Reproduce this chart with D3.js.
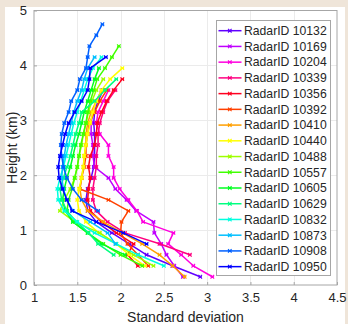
<!DOCTYPE html>
<html>
<head>
<meta charset="utf-8">
<script src="https://cdn.jsdelivr.net/npm/d3@7"></script>
<style>
  body { margin: 0; background: #efe5d9; }
  #chart { width: 348px; height: 324px; }
  text { font-family: "Liberation Sans", Arial, sans-serif; fill: #262626; }
</style>
</head>
<body>
<div id="chart"></div>
<script>
// heights (km) shared by every radar profile
const heights = [0.15,0.35,0.55,0.75,0.95,1.15,1.35,1.55,1.75,1.95,2.15,2.35,2.55,2.75,2.95,3.15,3.35,3.55,3.75,3.95,4.15,4.35,4.55,4.75];

const radarIds = ['10132','10169','10204','10339','10356','10392','10410','10440','10488','10557','10605','10629','10832','10873','10908','10950'];

// standard deviation per height, null = no data
const sd10132 = [2.92,2.60,2.30,2.10,1.90,1.72,1.62,1.60,1.62,1.66,1.69,1.70,1.70,1.70,1.69,1.70,1.74,1.80];
const sd10169 = [2.72,2.62,2.53,2.47,2.39,2.38,2.18,2.07,1.94,1.86,1.70,1.68,1.68,1.66,1.66,1.68,1.72,1.78];
const sd10204 = [3.06,2.84,2.70,2.55,2.61,2.26,2.19,2.09,1.99,1.92,1.92,1.86,1.86,1.76,1.72,1.74,1.80,1.86];
const sd10339 = [null,null,2.80,2.45,2.05,1.85,1.72,1.68,1.68,1.70,1.72,1.72,1.74,1.74,1.76,1.80,1.85,1.94];
const sd10356 = [null,2.20,2.08,2.15,1.95,1.78,1.65,1.62,1.63,1.65,1.63,1.65,1.70,1.72,1.73,1.78,1.84,1.92,2.02];
const sd10392 = [null,2.32,2.20,2.08,2.00,2.01,2.09,1.86,1.53,1.55,1.58,1.60,1.60,1.62,1.64,1.70,1.76,1.84];
const sd10410 = [2.74,2.60,2.45,2.25,2.02,1.80,1.62,1.55,1.53,1.55,1.57,1.58,1.60,1.60,1.62,1.66,1.72,1.80];
const sd10440 = [null,2.28,2.10,1.95,1.75,1.60,1.52,1.50,1.52,1.55,1.57,1.58,1.60,1.62,1.65,1.68,1.72,1.78,1.88,2.02];
const sd10488 = [null,2.38,2.15,1.95,1.76,1.47,1.30,1.35,1.42,1.47,1.50,1.52,1.55,1.57,1.60,1.63,1.67,1.72,1.80];
const sd10557 = [null,2.25,2.00,1.80,1.62,1.45,1.38,1.40,1.44,1.47,1.50,1.52,1.54,1.57,1.60,1.62,1.65,1.69,1.73,1.82,1.90,1.98];
const sd10605 = [null,null,2.05,1.78,1.62,1.45,1.36,1.33,1.35,1.38,1.42,1.45,1.48,1.52,1.55,1.58,1.62,1.66,1.70,1.75];
const sd10629 = [null,null,1.92,1.74,1.63,1.49,1.38,1.32,1.30,1.34,1.38,1.42,1.45,1.48,1.52,1.55,1.70,1.82,1.95];
const sd10832 = [null,2.50,2.20,1.95,1.70,1.50,1.35,1.28,1.27,1.30,1.34,1.37,1.40,1.43,1.46,1.50,1.54,1.58,1.62,1.68,1.78];
const sd10873 = [null,null,null,1.94,1.85,1.65,1.45,1.38,1.34,1.32,1.33,1.35,1.37,1.40,1.43,1.46,1.50,1.55,1.58,1.62,1.70];
const sd10908 = [null,null,null,null,null,null,1.74,1.55,1.45,1.38,1.34,1.32,1.31,1.32,1.35,1.40,1.43,1.50,1.53,1.60,1.62,1.64,1.72,1.79];
const sd10950 = [null,null,null,2.30,2.03,1.72,1.44,1.38,1.33,1.29,1.28,1.30,1.33,1.36,1.40,1.47,1.55,1.62,1.64,1.65,1.83];

const sdSeries = [sd10132,sd10169,sd10204,sd10339,sd10356,sd10392,sd10410,sd10440,sd10488,sd10557,sd10605,sd10629,sd10832,sd10873,sd10908,sd10950];

const xTicks = [1,1.5,2,2.5,3,3.5,4,4.5];
const yTicks = [0,1,2,3,4,5];

const W = 348, H = 324;
const svg = d3.select('#chart').append('svg').attr('width', W).attr('height', H);

// white panel on the beige page
svg.append('rect').attr('x', 5).attr('y', 7).attr('width', 340).attr('height', H - 7).attr('fill', '#fff');

const x = d3.scaleLinear().domain([1, 4.5]).range([34, 337]);
const y = d3.scaleLinear().domain([0, 5]).range([285, 10.5]);
const color = i => d3.hsl((262.5 + 22.5 * i) % 360, 1, 0.5).formatHex();

// grid
const grid = svg.append('g').attr('stroke', '#ebebeb').attr('stroke-width', 1);
grid.selectAll('.gx').data(xTicks.slice(1, -1)).join('line')
  .attr('x1', d => Math.round(x(d)) + 0.5).attr('x2', d => Math.round(x(d)) + 0.5)
  .attr('y1', y(5)).attr('y2', y(0));
grid.selectAll('.gy').data(yTicks.slice(1, -1)).join('line')
  .attr('y1', d => Math.round(y(d)) + 0.5).attr('y2', d => Math.round(y(d)) + 0.5)
  .attr('x1', x(1)).attr('x2', x(4.5));

// series
const line = d3.line().defined(d => d[0] != null).x(d => x(d[0])).y(d => y(d[1]));
const plot = svg.append('g');
sdSeries.forEach((vals, i) => {
  const pts = vals.map((v, k) => [v, heights[k]]);
  const c = color(i);
  plot.append('path').datum(pts).attr('d', line)
    .attr('fill', 'none').attr('stroke', c).attr('stroke-width', 1.5).attr('stroke-linejoin', 'round');
  plot.append('g').selectAll('path').data(pts.filter(d => d[0] != null)).join('path')
    .attr('d', d => {
      const px = x(d[0]), py = y(d[1]), s = 1.8;
      return `M${px-s},${py-s}L${px+s},${py+s}M${px-s},${py+s}L${px+s},${py-s}M${px-s},${py}L${px+s},${py}`;
    })
    .attr('stroke', c).attr('stroke-width', 1.1).attr('fill', 'none');
});

// axes box
const axisCol = '#a6a6a6';
svg.append('rect').attr('x', x(1)).attr('y', y(5)).attr('width', x(4.5) - x(1)).attr('height', y(0) - y(5))
  .attr('fill', 'none').attr('stroke', axisCol).attr('stroke-width', 1);

const xAxis = d3.axisBottom(x).tickValues(xTicks).tickSize(-3).tickPadding(8).tickFormat(d3.format('~g'));
const gx = svg.append('g').attr('transform', `translate(0,${y(0)})`).call(xAxis);
const yAxis = d3.axisLeft(y).tickValues(yTicks).tickSize(-3).tickPadding(7).tickFormat(d3.format('d'));
const gy = svg.append('g').attr('transform', `translate(${x(1)},0)`).call(yAxis);
[gx, gy].forEach(g => {
  g.select('.domain').remove();
  g.selectAll('.tick line').attr('stroke', axisCol);
  g.selectAll('.tick text').attr('font-size', 13).attr('font-family', '"Liberation Sans", Arial, sans-serif').attr('fill', '#262626');
});

svg.append('text').attr('x', (x(1) + x(4.5)) / 2).attr('y', 322).attr('text-anchor', 'middle')
  .attr('font-size', 14).text('Standard deviation');
svg.append('text').attr('transform', `translate(17,${(y(0) + y(5)) / 2}) rotate(-90)`).attr('text-anchor', 'middle')
  .attr('font-size', 14).text('Height (km)');

// legend
const lg = svg.append('g');
lg.append('rect').attr('x', 216.5).attr('y', 20.5).attr('width', 114).attr('height', 255)
  .attr('fill', '#fff').attr('stroke', axisCol).attr('stroke-width', 1);
const rows = lg.selectAll('.row').data(radarIds).join('g')
  .attr('transform', (d, i) => `translate(0,${30.7 + i * 15.73})`);
rows.append('line').attr('x1', 218.5).attr('x2', 241.5).attr('y1', 0).attr('y2', 0)
  .attr('stroke', (d, i) => color(i)).attr('stroke-width', 1.5);
rows.append('path').attr('d', 'M228,-1.8L231.6,1.8M228,1.8L231.6,-1.8M228,0L231.6,0')
  .attr('stroke', (d, i) => color(i)).attr('stroke-width', 1.1);
rows.append('text').attr('x', 244).attr('y', 4.3).attr('font-size', 12.2).text(d => 'RadarID ' + d);
</script>
</body>
</html>
